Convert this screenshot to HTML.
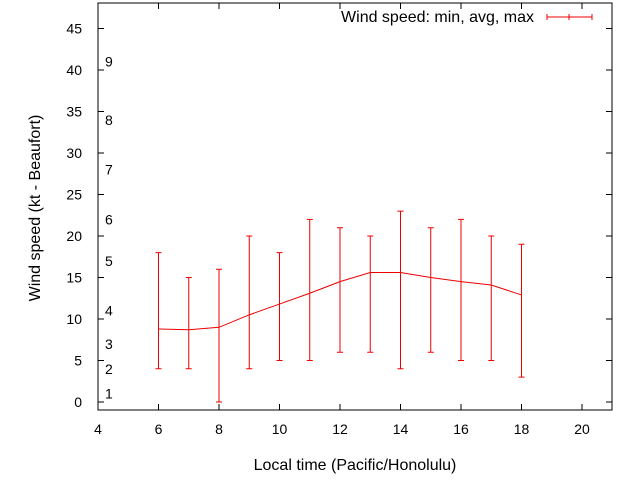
<!DOCTYPE html>
<html><head><meta charset="utf-8"><style>
body{margin:0;background:#fff}
svg{display:block;font-family:"Liberation Sans",sans-serif;font-size:14px}
.big{font-size:16px}
</style></head><body>
<svg id="chart" width="640" height="480">
<g id="axes"></g><g id="series"></g>
</svg>
<script>
const hours=[6,7,8,9,10,11,12,13,14,15,16,17,18];
const avgSpeed=[8.8,8.7,9,10.5,11.8,13.1,14.5,15.6,15.6,15,14.5,14.1,12.9];
const minSpeed=[4,4,0,4,5,5,6,6,4,6,5,5,3];
const maxSpeed=[18,15,16,20,18,22,21,20,23,21,22,20,19];
const xTicks=[4,6,8,10,12,14,16,18,20];
const yTicks=[0,5,10,15,20,25,30,35,40,45];
const beaufortLevels=[1,2,3,4,5,6,7,8,9];
const beaufortKt=[1,4,7,11,17,22,28,34,41];
const NS="http://www.w3.org/2000/svg";
const L=98,R=612,T=3,B=410;
const X=v=>98+(v-4)*30.25;
const Y=v=>402-v*8.3;
function mk(tag,attrs,parent,text){const e=document.createElementNS(NS,tag);for(const k in attrs)e.setAttribute(k,attrs[k]);if(text!==undefined)e.textContent=text;parent.appendChild(e);return e;}
const ax=document.getElementById('axes'),se=document.getElementById('series');
let e=mk('rect',{x:L,y:T,width:R-L,height:B-T,fill:'none',stroke:'#000','stroke-width':1},ax);


xTicks.forEach(v=>{
 let t=mk('line',{x1:X(v),x2:X(v),y1:B,y2:B-6,stroke:'#000'},ax);
 
 
 let t2=mk('line',{x1:X(v),x2:X(v),y1:T,y2:T+6,stroke:'#000'},ax);
 
 
 let l=mk('text',{x:X(v),y:B+24,'text-anchor':'middle'},ax,String(v));
 
 
});
yTicks.forEach(v=>{
 let t=mk('line',{x1:L,x2:L+6,y1:Y(v),y2:Y(v),stroke:'#000'},ax);
 
 
 let t2=mk('line',{x1:R,x2:R-6,y1:Y(v),y2:Y(v),stroke:'#000'},ax);
 
 
 let l=mk('text',{x:L-16,y:Y(v)+5,'text-anchor':'end'},ax,String(v));
 
 
});
beaufortLevels.forEach((b,i)=>{
 let l=mk('text',{x:105,y:Y(beaufortKt[i])+5},ax,String(b));
 
 
});
let xt=mk('text',{x:355,y:470,'text-anchor':'middle','class':'big'},ax,'Local time (Pacific/Honolulu)');


let yt=mk('text',{x:0,y:0,'text-anchor':'middle','class':'big',transform:'translate(40,208) rotate(-90)'},ax,'Wind speed (kt - Beaufort)');


let lt=mk('text',{x:534,y:22,'text-anchor':'end','class':'big'},ax,'Wind speed: min, avg, max');


let lg=mk('path',{d:'M547,17H592M547,14V20M569,14V20M592,14V20',stroke:'#e00',fill:'none'},ax);


hours.forEach((h,i)=>{
 let x=X(h);
 let p=mk('path',{d:`M${x},${Y(minSpeed[i])}V${Y(maxSpeed[i])}M${x-3},${Y(minSpeed[i])}H${x+3}M${x-3},${Y(maxSpeed[i])}H${x+3}`,stroke:'#e00',fill:'none'},se);
 
 
});
let line=mk('polyline',{points:hours.map((h,i)=>X(h)+','+Y(avgSpeed[i])).join(' '),stroke:'#e00',fill:'none'},se);


</script>
</body></html>
